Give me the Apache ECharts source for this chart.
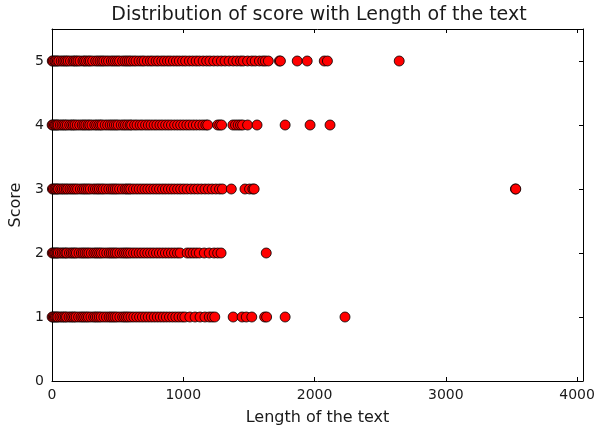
<!DOCTYPE html>
<html>
<head>
<meta charset="utf-8">
<title>Distribution of score with Length of the text</title>
<script src="https://cdn.jsdelivr.net/npm/echarts@6/dist/echarts.min.js"></script>
<style>
  html, body { margin: 0; padding: 0; background: #fff; }
  #chart { width: 603px; height: 431px; }
</style>
</head>
<body>
<div id="chart"></div>
<script>
// Review text lengths, grouped by the score given
const score5Lengths = [2, 9, 21, 30, 41, 52, 70, 85, 98, 111, 124, 141, 160, 172, 185, 198, 214, 236, 249, 263, 280, 292, 310, 333, 349, 366, 381, 395, 414, 431, 452, 468, 484, 500, 515, 538, 556, 572, 588, 603, 622, 640, 663, 684, 702, 727, 749, 768, 793, 812, 836, 857, 880, 901, 925, 948, 970, 995, 1018, 1046, 1071, 1098, 1122, 1151, 1178, 1203, 1232, 1261, 1290, 1318, 1349, 1380, 1408, 1436, 1457, 1490, 1522, 1548, 1580, 1606, 1625, 1648, 1732, 1740, 1868, 1944, 2074, 2098, 2645];
const score4Lengths = [1, 8, 19, 28, 38, 47, 63, 77, 90, 103, 117, 135, 150, 163, 176, 193, 211, 230, 244, 258, 275, 288, 305, 326, 340, 356, 370, 383, 405, 424, 443, 459, 475, 490, 505, 527, 545, 560, 577, 595, 607, 629, 648, 671, 690, 713, 734, 755, 778, 799, 822, 843, 866, 888, 910, 934, 957, 980, 1003, 1027, 1050, 1076, 1100, 1125, 1150, 1172, 1186, 1262, 1278, 1292, 1378, 1398, 1418, 1436, 1452, 1490, 1562, 1776, 1966, 2118];
const score3Lengths = [3, 11, 22, 31, 42, 50, 67, 80, 94, 108, 120, 137, 152, 166, 180, 195, 216, 233, 247, 262, 277, 292, 314, 331, 347, 361, 378, 392, 412, 433, 452, 467, 482, 497, 515, 536, 557, 571, 586, 600, 621, 643, 664, 686, 708, 730, 752, 775, 797, 819, 842, 864, 887, 910, 933, 957, 980, 1004, 1030, 1058, 1085, 1110, 1138, 1165, 1192, 1220, 1248, 1276, 1298, 1366, 1470, 1505, 1530, 1540, 3530, 3533];
const score2Lengths = [2, 10, 20, 29, 39, 48, 64, 78, 91, 104, 114, 133, 148, 161, 174, 186, 206, 224, 238, 252, 267, 281, 299, 319, 334, 348, 363, 377, 396, 417, 436, 451, 466, 481, 496, 517, 537, 553, 568, 583, 600, 621, 642, 664, 685, 707, 729, 751, 773, 796, 818, 841, 864, 887, 910, 933, 956, 976, 1030, 1052, 1075, 1098, 1122, 1160, 1198, 1235, 1262, 1288, 1632];
const score1Lengths = [1, 9, 18, 27, 37, 45, 61, 75, 88, 101, 111, 130, 145, 158, 171, 184, 203, 221, 235, 249, 264, 278, 297, 317, 331, 345, 360, 375, 395, 415, 435, 450, 465, 480, 496, 517, 538, 553, 568, 583, 602, 623, 645, 667, 689, 711, 733, 756, 779, 802, 825, 848, 871, 895, 919, 943, 967, 992, 1012, 1050, 1090, 1128, 1165, 1198, 1220, 1240, 1380, 1448, 1480, 1522, 1620, 1635, 1776, 2232];

const scores = [1, 2, 3, 4, 5];
const lengthsByScore = [score1Lengths, score2Lengths, score3Lengths, score4Lengths, score5Lengths];

// Tick labels
const xTicks = [0, 1000, 2000, 3000, 4000];
const yTicks = [0, 1, 2, 3, 4, 5];

const FONT = 'DejaVu Sans';
const INK = '#1a1a1a';

const points = [];
scores.forEach((s, i) => {
  lengthsByScore[i].forEach(len => points.push([len, s]));
});

function axisBase(labels) {
  return {
    type: 'value',
    splitLine: { show: false },
    axisLine: { show: true, onZero: false, lineStyle: { color: '#000', width: 1 } },
    axisTick: { show: true, inside: true, length: 4, customValues: labels, lineStyle: { color: '#000', width: 1 } }
  };
}

const plain = v => String(v);

const chart = echarts.init(document.getElementById('chart'), null, { renderer: 'canvas' });
chart.setOption({
  animation: false,
  backgroundColor: '#fff',
  grid: { left: 52, right: 20, top: 29, bottom: 49, containLabel: false },
  graphic: [{
    type: 'text',
    x: 319,
    y: 15,
    style: {
      text: 'Distribution of score with Length of the text',
      fill: INK,
      font: '19px "DejaVu Sans"',
      textAlign: 'center',
      textVerticalAlign: 'middle'
    }
  }],
  xAxis: [
    Object.assign(axisBase(xTicks), {
      position: 'bottom',
      min: 0,
      max: 4045,
      name: 'Length of the text',
      nameLocation: 'middle',
      nameGap: 29,
      nameTextStyle: { color: INK, fontSize: 16, fontFamily: FONT },
      axisLabel: { show: true, customValues: xTicks, formatter: plain, color: INK, fontSize: 14, fontFamily: FONT, margin: 7 }
    }),
    Object.assign(axisBase(xTicks), {
      position: 'top',
      min: 0,
      max: 4045,
      axisLabel: { show: false }
    })
  ],
  yAxis: [
    Object.assign(axisBase(yTicks), {
      position: 'left',
      min: 0,
      max: 5.5,
      name: 'Score',
      nameLocation: 'middle',
      nameGap: 28,
      nameTextStyle: { color: INK, fontSize: 16, fontFamily: FONT },
      axisLabel: { show: true, customValues: yTicks, formatter: plain, color: INK, fontSize: 14, fontFamily: FONT, margin: 8 }
    }),
    Object.assign(axisBase(yTicks), {
      position: 'right',
      min: 0,
      max: 5.5,
      axisLabel: { show: false }
    })
  ],
  series: [{
    type: 'scatter',
    xAxisIndex: 0,
    yAxisIndex: 0,
    symbol: 'circle',
    symbolSize: 10,
    data: points,
    itemStyle: { color: '#ff0000', borderColor: '#000', borderWidth: 0.8, opacity: 1 },
    emphasis: { disabled: true },
    clip: false
  }]
});
</script>
</body>
</html>
